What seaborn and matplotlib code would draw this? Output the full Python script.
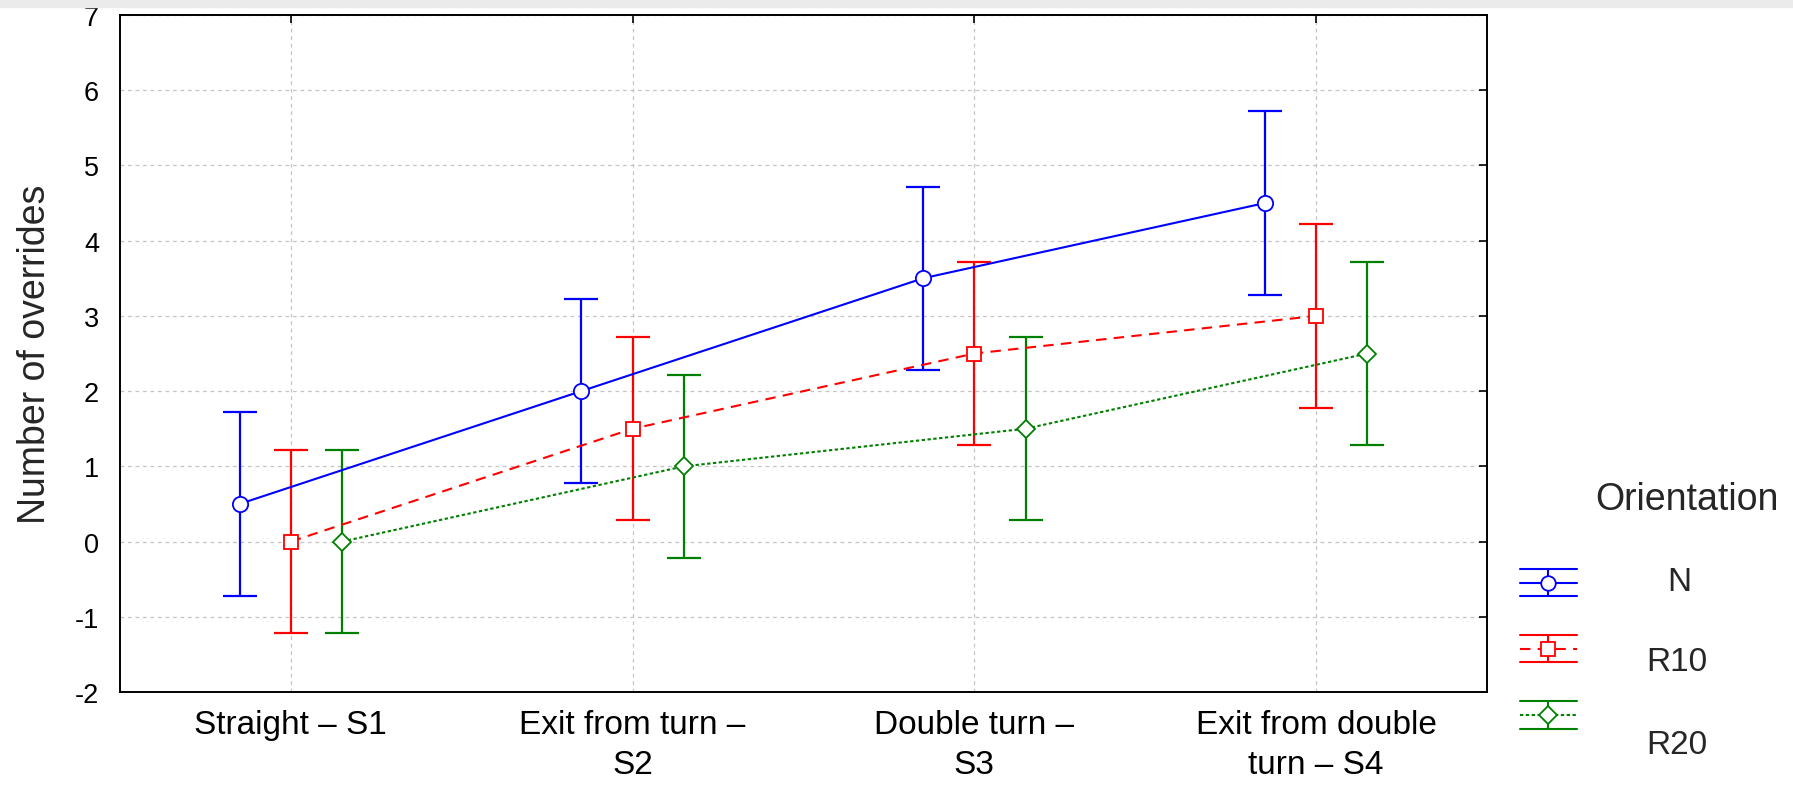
import numpy as np
import pandas as pd
import matplotlib
matplotlib.use("Agg")
import matplotlib.pyplot as plt
import seaborn as sns
from matplotlib.legend_handler import HandlerBase
from matplotlib.lines import Line2D
from matplotlib.patches import Rectangle

# data
stages = ["Straight – S1", "Exit from turn –\nS2", "Double turn –\nS3",
          "Exit from double\nturn – S4"]
orientations = ["N", "R10", "R20"]
mean_N = [0.5, 2.0, 3.5, 4.5]
mean_R10 = [0.0, 1.5, 2.5, 3.0]
mean_R20 = [0.0, 1.0, 1.5, 2.5]
ci_half = [1.22, 1.22, 1.22, 1.22]  # same half-width for every group
y_ticks = list(range(-2, 8))

colors = {"N": "#0000ff", "R10": "#ff0000", "R20": "#008000"}
markers = {"N": "o", "R10": "s", "R20": "D"}
msizes = {"N": 11, "R10": 10, "R20": 9.5}
lstyles = {"N": "-", "R10": (0, (5, 3.5)), "R20": (0, (1.6, 1.2))}
offsets = {"N": -0.15, "R10": 0.0, "R20": 0.15}

rows = []
for name, vals in zip(orientations, [mean_N, mean_R10, mean_R20]):
    for i, v in enumerate(vals):
        rows.append({"stage": i, "orientation": name, "mean": v, "err": ci_half[i]})
df = pd.DataFrame(rows)
df["x"] = df["stage"] + df["orientation"].map(offsets)


class ErrorbarHandle(HandlerBase):
    """Legend glyph: caps as long lines above/below, series line with marker"""
    def create_artists(self, legend, orig_handle, xdescent, ydescent,
                       width, height, fontsize, trans):
        c = orig_handle.get_color()
        x0, x1 = -xdescent, -xdescent + width
        ym = -ydescent + height / 2
        dy = height / 2
        xm = (x0 + x1) / 2
        arts = []
        for y in (ym - dy, ym + dy):
            arts.append(Line2D([x0, x1], [y, y], color=c, lw=1.5))
        arts.append(Line2D([xm, xm], [ym - dy, ym + dy], color=c, lw=1.5))
        mid = Line2D([x0, x1], [ym, ym])
        mid.update_from(orig_handle)
        mid.set_marker("None")
        arts.append(mid)
        mk = Line2D([xm], [ym])
        mk.update_from(orig_handle)
        mk.set_linestyle("None")
        arts.append(mk)
        for a in arts:
            a.set_transform(trans)
        return arts


sns.set_style("white")
plt.rcParams['font.family'] = ['Liberation Sans', 'DejaVu Sans']

fig = plt.figure(figsize=(17.93, 8.12), dpi=100)
ax = fig.add_axes([120 / 1793, 1 - 693 / 812, (1487 - 120) / 1793, (693 - 16) / 812])

# grey strip along the top edge
fig.patches.append(Rectangle((0, 1 - 8 / 812), 1, 8 / 812, transform=fig.transFigure,
                             color="#ebebeb", zorder=0))

handles = []
for name in orientations:
    sub = df[df["orientation"] == name]
    c = colors[name]
    ax.errorbar(sub["x"], sub["mean"], yerr=sub["err"], fmt="none", ecolor=c,
                elinewidth=1.6, capsize=12.5, capthick=1.6, zorder=3)
    sns.lineplot(data=sub, x="x", y="mean", ax=ax, color=c, marker=markers[name],
                 markersize=msizes[name], mfc="white", mec=c, mew=1.3,
                 linestyle=lstyles[name], lw=1.5, zorder=4, errorbar=None)
    handles.append(Line2D([], [], color=c, ls=lstyles[name], lw=1.5,
                          marker=markers[name], ms=msizes[name] * 0.95,
                          mfc="white", mec=c, mew=1.3))

ax.set_xlim(-0.5, 3.5)
ax.set_ylim(-2, 7)
ax.set_xticks(range(len(stages)))
ax.set_xticklabels(stages, fontsize=24, linespacing=1.4)
ax.set_yticks(y_ticks)
ax.set_yticklabels([str(t) for t in y_ticks], fontsize=19.5)
ax.set_xlabel("")
ax.set_ylabel("Number of overrides", fontsize=27)
ax.yaxis.set_label_coords(-0.049, 0.5)

ax.grid(True, color="#c4c4c4", linestyle=(0, (3, 3)), linewidth=0.9)
ax.tick_params(direction="in", length=6, width=1.2, top=True, right=True,
               colors="black")
ax.tick_params(axis="x", pad=12)
ax.tick_params(axis="y", pad=15)
for sp in ax.spines.values():
    sp.set_visible(True)
    sp.set_color("black")
    sp.set_linewidth(1.4)

# legend glyphs; the entry names sit a bit lower and are centred, as in the source
fig.legend(handles, ["", "", ""], loc="upper left",
           bbox_to_anchor=(1520 / 1793, 1 - 570 / 812), frameon=False,
           fontsize=24, handlelength=1.7, handleheight=0.88, handletextpad=0,
           labelspacing=1.02, borderpad=0, borderaxespad=0,
           handler_map={Line2D: ErrorbarHandle()})
label_pos = {"N": (1679, 583), "R10": (1677, 663), "R20": (1677, 746)}
for name in orientations:
    px, py = label_pos[name]
    fig.text(px / 1793, 1 - py / 812, name, fontsize=24, ha="center", va="center")
fig.text(1687 / 1793, 1 - 500 / 812, "Orientation", fontsize=27,
         ha="center", va="center")

fig.savefig("out.png", dpi=100)
